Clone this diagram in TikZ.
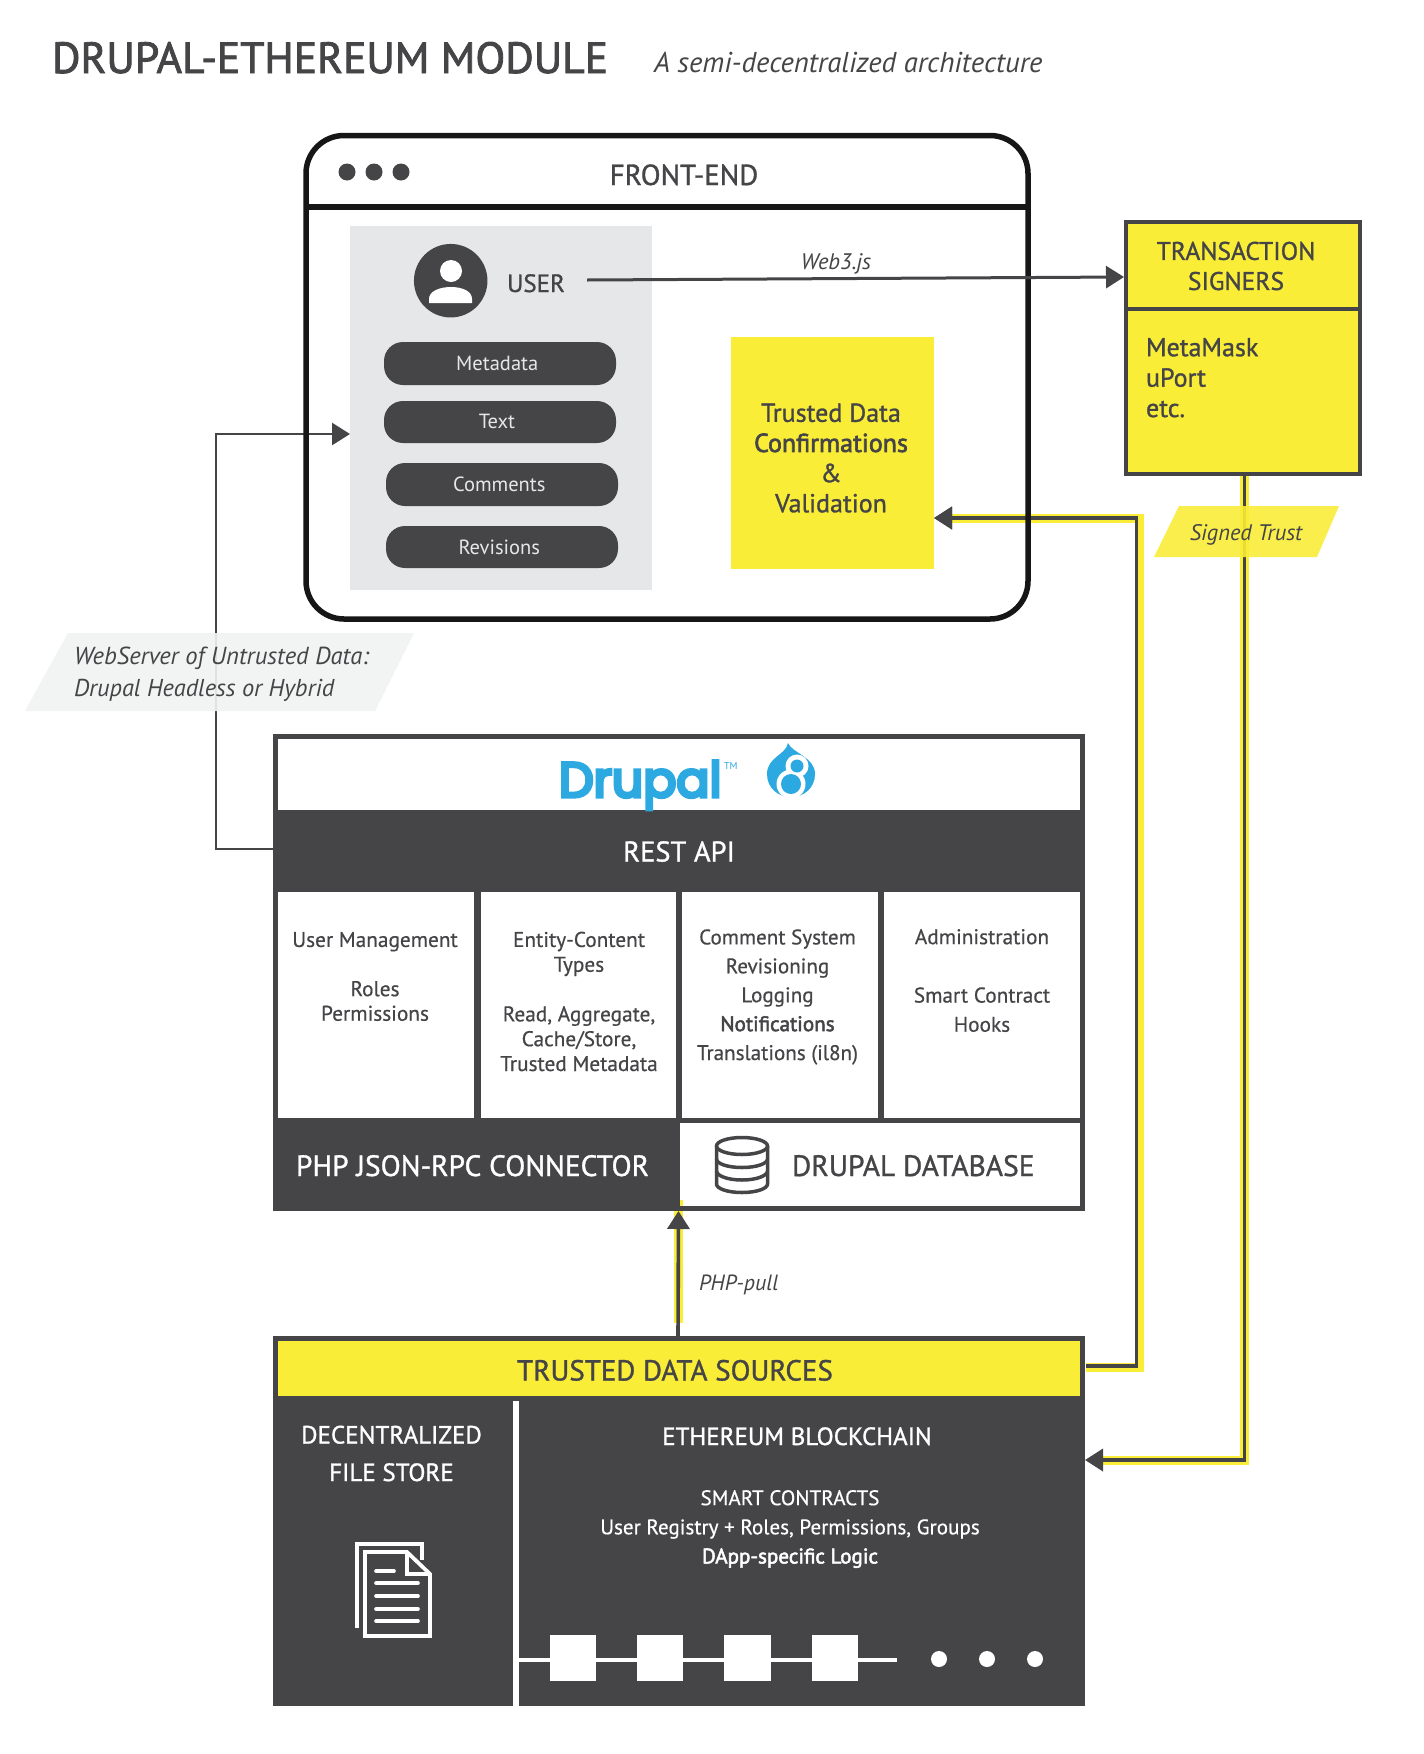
\documentclass[tikz,border=0pt]{standalone}
\usepackage{fontspec}
\setmainfont[FakeBold=0.5]{PT Sans}
\newfontfamily\lightf{PT Sans}
\newfontfamily\semi[FakeBold=1.1]{PT Sans}
\newfontfamily\titlef[FakeBold=2]{PT Sans}
\newfontfamily\heavy[FakeBold=2.4]{PT Sans}
\newfontfamily\drfont[FakeBold=7]{Poppins}
\usetikzlibrary{arrows.meta}
\definecolor{ink}{HTML}{454547}
\definecolor{frame}{HTML}{161616}
\definecolor{sun}{HTML}{F9ED38}
\definecolor{panel}{HTML}{E6E7E8}
\definecolor{mist}{HTML}{F1F2F2}
\definecolor{drop}{HTML}{2DA9E1}
\newcommand{\fl}[2]{\pgfmathsetmacro\fsb{#1*#2}\fontsize{#2}{\fsb}\selectfont}
\newcommand{\fs}[1]{\fl{1.2}{#1}}
\newcommand{\boxcell}[7]{\pgfmathsetmacro\cw{#5-(#3)}\pgfmathsetmacro\ch{#6-(#4)}%
  \node[anchor=north west,inner sep=0pt,outer sep=0pt,minimum width=\cw pt,minimum height=\ch pt,#2] (#1) at (#3,#4) {#7};}
\tikzset{
  pale/.style={fill=white,text=ink},
  sunbox/.style={fill=sun,text=ink},
  pill/.style={fill=ink,text=panel,rounded corners=19pt,font=\lightf\fontsize{20.5}{24}\selectfont},
  lbl/.style={inner sep=0pt,outer sep=0pt,text=ink,align=center},
  wlbl/.style={lbl,text=white},
  conn/.style={draw=ink,line width=3pt,-{Triangle[length=18pt,width=22pt]}},
  halo/.style={draw=sun,line width=9pt,line cap=butt,line join=miter},
  icon/.style={draw=ink,line width=3.5pt},
  doc/.style={draw=white,line width=3.8pt,line join=miter},
  docline/.style={draw=white,line width=3.6pt,line cap=round},
  chain/.style={fill=white,inner sep=0pt,minimum width=46.5pt,minimum height=45.5pt},
  bead/.style={fill=white,circle,inner sep=0pt,minimum size=16pt}
}
\begin{document}
\begin{tikzpicture}[x=1pt,y=-1pt]
\useasboundingbox (0,0) rectangle (1424,1754);
\fill[white] (0,0) rectangle (1424,1754);
% title
\node[lbl,anchor=base west,font=\titlef\fs{43.6}] (title) at (52,73) {DRUPAL-ETHEREUM MODULE};
\node[lbl,anchor=base west,font=\lightf\itshape\fs{28.7}] (subtitle) at (654,72) {A semi-decentralized architecture};

% named connector ends
\coordinate (webA) at (587,280);
\coordinate (webB) at (1124,277);
\coordinate (restOut) at (273,849);
\coordinate (panelIn) at (350,434);
\coordinate (leftUp) at (216,849);
\coordinate (leftTop) at (216,434);
\coordinate (trustOut) at (1086,1366);
\coordinate (trustCorner) at (1136.5,1366);
\coordinate (valCorner) at (1136.5,518);
\coordinate (valIn) at (934,518);
\coordinate (sigOut) at (1244.5,476);
\coordinate (sigCorner) at (1244.5,1460);
\coordinate (chainIn) at (1085,1460);
\coordinate (pullFrom) at (678,1336);
\coordinate (pullTo) at (678.5,1211);

% halos and trust arrows that run under the window
\draw[halo] (1086,1367) -- (1139,1367) -- (1139,518) -- (950,518);
\draw[conn,line width=3.6pt] (trustOut) -- (trustCorner) -- (valCorner) -- (valIn);

% signers
\draw[halo] (sigOut) -- (sigCorner) -- (1100,1460);
\draw[conn,line width=3.6pt] (sigOut) -- (sigCorner) -- (chainIn);

% left connector
\draw[conn,line width=2.6pt] (restOut) -- (leftUp) -- (leftTop) -- (panelIn);

% parallelogram tags over the lines
\fill[mist,fill opacity=.9] (68,633) -- (414,633) -- (375,711) -- (25,711) -- cycle;
\fill[sun,fill opacity=.9] (1179,506) -- (1339,506) -- (1317,557) -- (1154,557) -- cycle;
\node[lbl,anchor=base west,font=\lightf\itshape\fs{24.6}] (webtag) at (74,664) {WebServer of Untrusted Data:};
\node[lbl,anchor=base west,font=\lightf\itshape\fs{24.4}] (webtagb) at (74,696.5) {Drupal Headless or Hybrid};
\node[lbl,anchor=base,font=\lightf\itshape\fs{22.5}] (signedtag) at (1246,540) {Signed Trust};

% window
\node[draw=frame,line width=5.5pt,rounded corners=38pt,anchor=north west,inner sep=0pt,outer sep=0pt,minimum width=722pt,minimum height=483.5pt] (window) at (306,135.5) {};
\draw[frame,line width=5.5pt] (window.west |- 0,207) -- (window.east |- 0,207);
\foreach \n/\x in {a/347,b/374,c/401}
  \node[fill=ink,circle,inner sep=0pt,minimum size=17pt] (dot\n) at (\x,172) {};
\node[lbl,anchor=base,font=\semi\fs{29}] (frontend) at (684,185) {FRONT-END};

\boxcell{panel}{fill=panel}{350}{226}{652}{590}{}
\node[fill=ink,circle,inner sep=0pt,minimum size=73.5pt] (user) at (450.7,280.7) {};
\fill[white] (451,271) circle (11);
\fill[white] (429,303) -- (429,299) .. controls (429,291) and (440,287) .. (451,287) .. controls (462,287) and (472,291) .. (472,299) -- (472,303) -- cycle;
\node[lbl,anchor=base,font=\semi\fs{25}] (usertxt) at (536,292) {USER};
\boxcell{pm}{pill}{384}{342}{616}{385}{Metadata\hspace*{5.5pt}}
\boxcell{pt}{pill}{384}{401}{616}{443}{\raisebox{2pt}{Text}\hspace*{6pt}}
\boxcell{pc}{pill}{386}{463}{618}{506}{Comments\hspace*{5.5pt}}
\boxcell{pr}{pill}{386}{526}{618}{568}{Revisions\hspace*{5.5pt}}

\boxcell{valbox}{sunbox}{731}{337}{934}{569}{}
\node[lbl,font=\semi\fl{1.16}{26},anchor=center] (valtxt) at (831,458) {Trusted Data\\{\heavy Confirmations}\\\&\\Validation};

% arrow into the yellow box, over its edge
\draw[conn,line width=3.6pt] (1000,518) -- (valIn);

% web3 arrow
\draw[conn] (webA) -- (webB);
\node[lbl,anchor=base,font=\lightf\itshape\fs{22.5}] (web3) at (836,269) {Web3.js};

% signers box
\boxcell{signers}{fill=sun,draw=ink,line width=4.5pt}{1126}{222}{1360}{474}{}
\draw[ink,line width=4.5pt] (signers.west |- 0,309) -- (signers.east |- 0,309);
\node[lbl,anchor=center,font=\semi\fl{1.18}{25.5}] (sigtitle) at (1236,266) {TRANSACTION\\SIGNERS};
\node[lbl,anchor=north west,align=left,font=\semi\fl{1.17}{26}] (sigtxt) at (1146,338) {MetaMask\\uPort\\etc.};

% Drupal box
\boxcell{drupal}{fill=ink}{273}{734}{1085}{1211}{}
\boxcell{drupaltop}{fill=white}{278}{739}{1080}{810}{}
\node[lbl,text=drop,anchor=base west,font=\drfont\fs{49}] (drupalword) at (559,797) {Drupal};
\node[lbl,text=drop,anchor=base west,font=\lightf\fs{10}] (tm) at (724,769) {TM};
\fill[drop] (788,743) .. controls (792,753) and (815,757) .. (815,774) .. controls (815,788) and (804,797) .. (791,797) .. controls (778,797) and (767,788) .. (767,774) .. controls (767,757) and (786,755) .. cycle;
\fill[white] (797,766) circle (11.5);
\fill[white] (791,784) circle (14.5);
\fill[drop] (797,766) circle (6.5);
\fill[drop] (791,784) circle (10);

\node[wlbl,anchor=base,font=\semi\fs{28.5}] (rest) at (679,861.5) {REST API};

\boxcell{col1}{pale}{278}{892}{474}{1118}{}
\boxcell{col2}{pale}{480.5}{892}{676}{1118}{}
\boxcell{col3}{pale}{682}{892}{877.5}{1118}{}
\boxcell{col4}{pale}{884}{892}{1079.5}{1118}{}
\node[lbl,font=\fl{1.155}{21.3}] (col1txt) at (375,976.5) {User Management\\ \\Roles\\Permissions};
\node[lbl,font=\fl{1.165}{21.3}] (col2txt) at (579,1001.5) {Entity-Content\\Types\\ \\Read, Aggregate,\\Cache/Store,\\Trusted Metadata};
\node[lbl,font=\fl{1.37}{21.1}] (col3txt) at (777.5,997) {Comment System\\Revisioning\\Logging\\{\heavy Notifications}\\Translations (il8n)};
\node[lbl,font=\fl{1.37}{21.3}] (col4txt) at (982,980.5) {Administration\\ \\Smart Contract\\Hooks};

\boxcell{dbbox}{fill=white}{680}{1123}{1080}{1206}{}
\draw[halo] (pullTo |- 0,1323) -- (pullTo |- 0,1200);
\boxcell{php}{fill=ink}{273}{1118}{680}{1211}{}
\fill[ink] (680,1206) rectangle (1085,1211);
\node[wlbl,anchor=base west,font=\semi\fs{29.4}] (phptxt) at (296,1176) {PHP JSON-RPC CONNECTOR};
\node[lbl,anchor=base west,font=\semi\fs{29.5}] (dbtxt) at (792,1176) {DRUPAL DATABASE};
% database icon
\draw[icon] (742,1146) ellipse (25.5 and 8.5);
\draw[icon] (716.5,1146) -- (716.5,1184) .. controls (716.5,1188.5) and (727,1192.5) .. (742,1192.5) .. controls (757,1192.5) and (767.5,1188.5) .. (767.5,1184) -- (767.5,1146);
\draw[icon] (716.5,1159) .. controls (716.5,1163.5) and (727,1167.5) .. (742,1167.5) .. controls (757,1167.5) and (767.5,1163.5) .. (767.5,1159);
\draw[icon] (716.5,1171) .. controls (716.5,1175.5) and (727,1180) .. (742,1180) .. controls (757,1180) and (767.5,1175.5) .. (767.5,1171);

% pull arrow
\draw[conn,line width=3.6pt] (pullFrom) -- (pullTo);
\node[lbl,anchor=base west,font=\lightf\itshape\fs{22}] (pulltxt) at (699,1290) {PHP-pull};

% trusted data sources
\boxcell{trusted}{fill=ink}{273}{1336}{1085}{1706}{}
\boxcell{trustband}{fill=sun}{278}{1341}{1080}{1395.5}{}
\node[lbl,anchor=base,font=\semi\fs{29}] (trusttxt) at (675,1380.5) {TRUSTED DATA SOURCES};
\draw[white,line width=6pt] (516,1401) -- (516,1706);
\node[wlbl,font=\semi\fl{1.5}{25}] (dfs) at (391.5,1453.5) {DECENTRALIZED\\FILE STORE};
\node[wlbl,anchor=base,font=\semi\fs{25}] (eth) at (797,1445) {ETHEREUM BLOCKCHAIN};
\node[wlbl,font=\fl{1.38}{21.1}] (smart) at (790,1529) {SMART CONTRACTS\\User Registry + Roles, Permissions, Groups\\{\heavy DApp-specific Logic}};
% document icon
\draw[doc] (357,1628) -- (357,1544) -- (422,1544) -- (422,1560);
\draw[doc,fill=ink] (365,1552) -- (407,1552) -- (430,1574) -- (430,1636) -- (365,1636) -- cycle;
\draw[doc] (407,1552) -- (407,1574) -- (430,1574);
\draw[docline] (376,1571) -- (394,1571);
\foreach \y in {1583,1596,1609,1621} \draw[docline] (376,\y) -- (418,\y);
% chain
\coordinate (chainStart) at (519,1660);
\coordinate (chainEnd) at (897,1660);
\draw[white,line width=4pt] (chainStart) -- (chainEnd);
\foreach \n/\x in {a/573,b/660,c/747.5,d/835}
  \node[chain] (block\n) at (\x,1658) {};
\foreach \n/\x in {a/939,b/987,c/1035}
  \node[bead] (bead\n) at (\x,1659) {};
\end{tikzpicture}
\end{document}
